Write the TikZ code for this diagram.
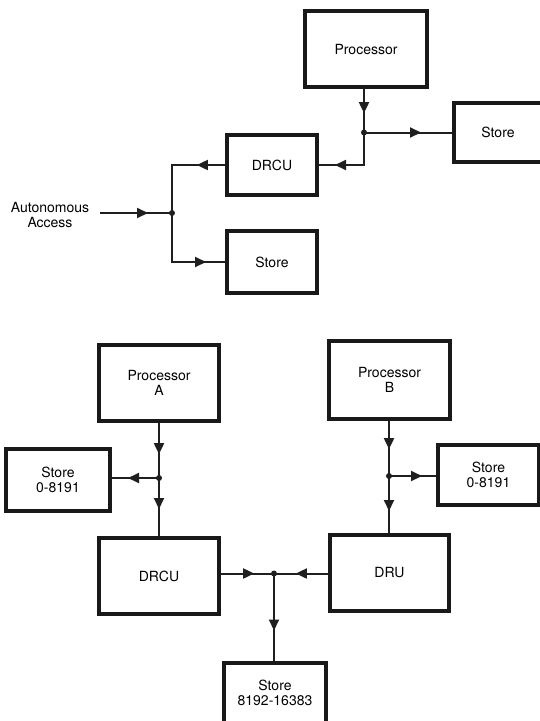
\documentclass[tikz,border=0pt]{standalone}
\usepackage{fontspec}
\setmainfont{TeX Gyre Heros}
\usetikzlibrary{arrows.meta,decorations.markings}
\tikzset{
  box/.style={draw=black!90, line width=4.2pt, inner sep=0pt, align=center,
    font=\fontsize{14}{15}\selectfont},
  lbl/.style={inner sep=0pt, align=center, font=\fontsize{14}{15}\selectfont},
  conn/.style={draw=black!88, line width=2pt},
  tipat/.style={postaction={decorate}, decoration={markings,
    mark=at position #1 with {\arrow{Triangle[length=11pt,width=10pt]}}}},
  jdot/.style={fill=black!88}
}
\begin{document}
\begin{tikzpicture}[x=1pt,y=-1pt]
\clip (0,0) rectangle (540,721);
\fill[white] (0,0) rectangle (540,721);
% ---------- upper diagram ----------
\node[box, minimum width=122pt, minimum height=76pt] (proc) at (366,49) {Processor};
\node[box, minimum width=88pt, minimum height=59pt] (storeTR) at (498,132.5) {Store};
\node[box, minimum width=90pt, minimum height=60pt] (drcuT) at (272,165) {DRCU};
\node[box, minimum width=90pt, minimum height=62pt] (storeT) at (272,262) {Store};
\node[lbl] (autotext) at (50,214.5) {Autonomous\\Access};
\coordinate (dot1) at (364,132.5);
\coordinate (dotA) at (172,213);
\coordinate (autoin) at (100,213);
\draw[conn, tipat=24pt] (dot1 |- proc.south) -- (dot1);
\draw[conn, tipat=57pt] (dot1) -- (storeTR.west |- dot1);
\draw[conn, tipat=61.5pt] (dot1) |- (drcuT.east);
\draw[conn, tipat=28pt] (drcuT.west) -| (dotA);
\draw[conn, tipat=83pt] (dotA) |- (storeT.west);
\draw[conn, tipat=48pt] (autoin) -- (dotA);
\fill[jdot] (dot1) circle (3pt);
\fill[jdot] (dotA) circle (3pt);
% ---------- lower diagram ----------
\node[box, minimum width=120pt, minimum height=76pt] (procA) at (159,383) {Processor\\A};
\node[box, minimum width=104pt, minimum height=62pt] (storeL) at (58,480) {Store\\0-8191};
\node[box, minimum width=120pt, minimum height=76pt] (drcuB) at (159,576) {DRCU};
\node[box, minimum width=121pt, minimum height=78pt] (procB) at (389.5,380) {Processor\\B};
\node[box, minimum width=101pt, minimum height=60pt] (storeR) at (488.5,475) {Store\\0-8191};
\node[box, minimum width=119pt, minimum height=76pt] (dru) at (389.5,573) {DRU};
\node[box, minimum width=102pt, minimum height=60pt] (storeB) at (275,693) {Store\\8192-16383};
\coordinate (dotB1) at (159,478);
\coordinate (dotB2) at (389,476);
\coordinate (dotC) at (274,573.5);
\draw[conn, tipat=31pt] (procA.south) -- (dotB1);
\draw[conn, tipat=31pt] (dotB1) -- (storeL.east |- dotB1);
\draw[conn, tipat=31pt] (dotB1) -- (drcuB.north);
\draw[conn, tipat=28pt] (procB.south -| dotB2) -- (dotB2);
\draw[conn, tipat=33pt] (dotB2) -- (storeR.west |- dotB2);
\draw[conn, tipat=35pt] (dotB2) -- (dotB2 |- dru.north);
\draw[conn, tipat=33pt] (drcuB.east |- dotC) -- (dotC);
\draw[conn, tipat=32pt] (dru.west |- dotC) -- (dotC);
\draw[conn, tipat=57pt] (dotC) -- (dotC |- storeB.north);
\fill[jdot] (dotB1) circle (3pt);
\fill[jdot] (dotB2) circle (3pt);
\fill[jdot] (dotC) circle (3pt);
\end{tikzpicture}
\end{document}
